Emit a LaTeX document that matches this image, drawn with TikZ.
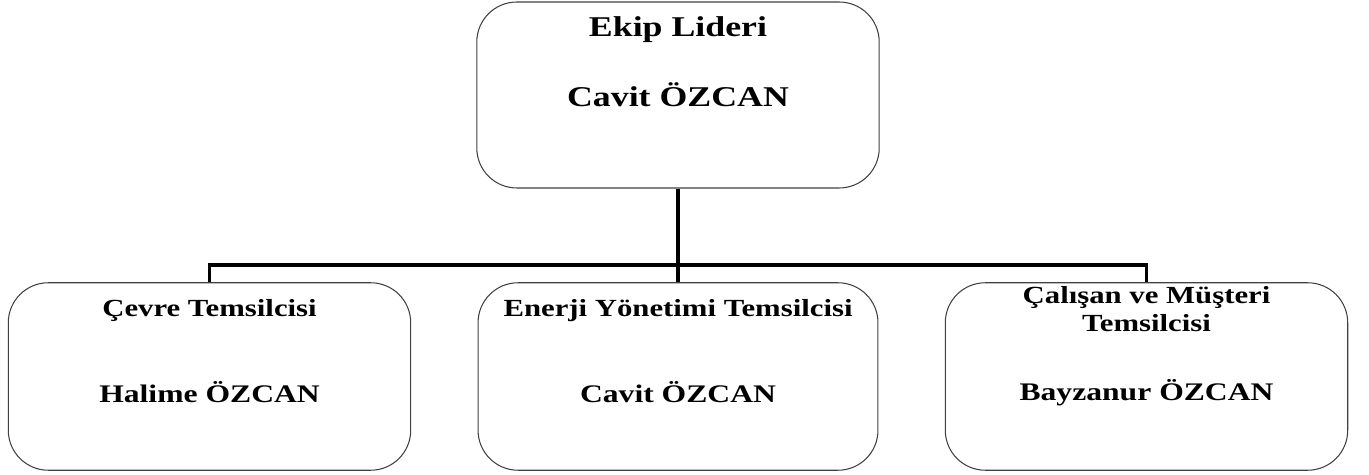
\documentclass[tikz,border=0pt]{standalone}
\usepackage{fontspec}
\setmainfont{Liberation Serif}[FakeStretch=1.25]

\begin{document}
\begin{tikzpicture}
        [x=0.02cm, y=-0.02cm, every node/.style={inner sep=0, font=\bfseries},
        kutu/.style={draw=black!75, line width=0.6pt, rectangle, rounded corners=0.8cm, minimum width=8.05cm, minimum height=3.75cm},
        ust/.style={anchor=base, font=\bfseries\fontsize{16.3}{18}\selectfont},
        alt/.style={anchor=base, align=center, font=\bfseries\fontsize{14}{16.4}\selectfont},
        isim/.style={alt, font=\bfseries\fontsize{14.4}{16.4}\selectfont},
        hat/.style={line width=2.1pt, black}]

        \useasboundingbox (0,0) rectangle (1369,475);

        \node[kutu, minimum height=3.72cm] (lider) at (678, 95) {};
        \node[kutu] (cevre) at (209.5, 376.5) {};
        \node[kutu, minimum width=8cm] (enerji) at (678, 376.5) {};
        \node[kutu] (musteri) at (1146.5, 376.5) {};

        \node[ust] (t1) at (678, 37) {Ekip Lideri};
        \node[ust] (n1) at (678, 107) {Cavit ÖZCAN};
        \node[alt] (t2) at (209.5, 317) {Çevre Temsilcisi};
        \node[isim] (n2) at (209.5, 403) {Halime ÖZCAN};
        \node[alt] (t3) at (678, 317) {Enerji Yönetimi Temsilcisi};
        \node[isim] (n3) at (678, 403) {Cavit ÖZCAN};
        \node[alt] (t4) at (1146.5, 332) {Çalışan ve Müşteri\\Temsilcisi};
        \node[isim] (n4) at (1146.5, 401) {Bayzanur ÖZCAN};

        \coordinate (bus) at (678, 265);

        \draw[hat] (lider.south) -- (enerji.north);
        \draw[hat] (cevre.north) -- (cevre.north |- bus) -- (musteri.north |- bus) -- (musteri.north);

      \end{tikzpicture}
\end{document}
